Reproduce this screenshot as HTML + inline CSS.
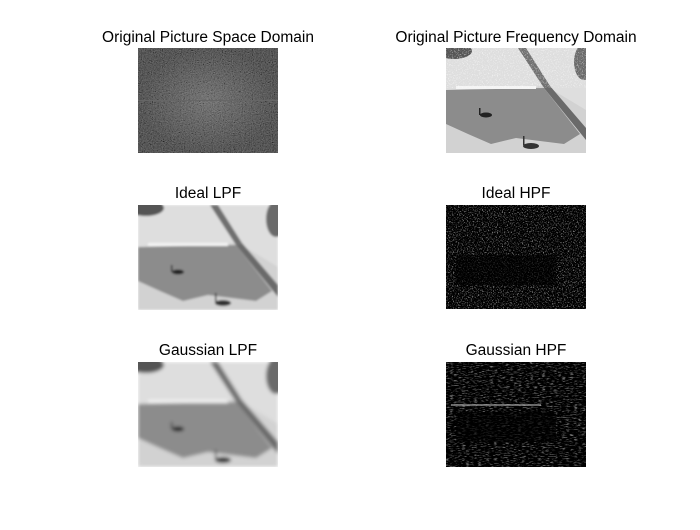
<!DOCTYPE html>
<html><head><meta charset="utf-8"><style>
body{margin:0;background:#fff;width:700px;height:525px;overflow:hidden;font-family:"Liberation Sans",Arial,sans-serif}
</style></head><body>
<svg width="700" height="525" viewBox="0 0 700 525" xmlns="http://www.w3.org/2000/svg">
<defs>
<clipPath id="clip"><rect width="140" height="105"/></clipPath>
<filter id="noiseGray" x="0" y="0" width="100%" height="100%">
 <feTurbulence type="fractalNoise" baseFrequency="0.9" numOctaves="2" seed="3" result="t"/>
 <feColorMatrix in="t" type="matrix" values="0.33 0.33 0.33 0 0  0.33 0.33 0.33 0 0  0.33 0.33 0.33 0 0  0 0 0 0 1" result="g"/>
 <feComponentTransfer in="g"><feFuncR type="linear" slope="1.0" intercept="-0.3"/><feFuncG type="linear" slope="1.0" intercept="-0.3"/><feFuncB type="linear" slope="1.0" intercept="-0.3"/></feComponentTransfer>
</filter>
<filter id="sparse" x="0" y="0" width="100%" height="100%">
 <feTurbulence type="fractalNoise" baseFrequency="0.8" numOctaves="2" seed="7" result="t"/>
 <feColorMatrix in="t" type="matrix" values="0 0 0 0 1  0 0 0 0 1  0 0 0 0 1  1 0 0 0 0" result="w"/>
 <feComponentTransfer in="w"><feFuncA type="linear" slope="4" intercept="-2.1"/></feComponentTransfer>
</filter>
<filter id="sparseH" x="0" y="0" width="100%" height="100%">
 <feTurbulence type="fractalNoise" baseFrequency="0.25 0.9" numOctaves="2" seed="11" result="t"/>
 <feColorMatrix in="t" type="matrix" values="0 0 0 0 1  0 0 0 0 1  0 0 0 0 1  1 0 0 0 0" result="w"/>
 <feComponentTransfer in="w"><feFuncA type="linear" slope="4" intercept="-2.1"/></feComponentTransfer>
</filter>
<filter id="blur1"><feGaussianBlur stdDeviation="1"/></filter>
<filter id="blur2"><feGaussianBlur stdDeviation="1.8"/></filter>
<radialGradient id="center" cx="50%" cy="50%" r="50%"><stop offset="0" stop-color="#fff" stop-opacity="0.18"/><stop offset="1" stop-color="#fff" stop-opacity="0"/></radialGradient>
<g id="scene">
 <rect width="140" height="105" fill="#d2d2d2"/>
 <polygon points="0,0 140,0 140,62 100,38 0,42" fill="#dedede"/>
 <ellipse cx="8" cy="3" rx="18" ry="8" fill="#555"/>
 <ellipse cx="138" cy="14" rx="10" ry="18" fill="#6a6a6a"/>
 <polygon points="72,0 80,0 104,38 98,40" fill="#707070"/>
 <polygon points="98,40 104,38 140,80 140,92" fill="#6a6a6a"/>
 <polygon points="0,42 98,40 134,86 118,96 70,90 45,96 22,86 0,76" fill="#8c8c8c"/>
 <rect x="10" y="38" width="80" height="3" fill="#f4f4f4"/>
 <ellipse cx="40" cy="67" rx="6" ry="2.5" fill="#222"/>
 <rect x="33" y="60" width="1.5" height="7" fill="#222"/>
 <ellipse cx="85" cy="98" rx="8" ry="3" fill="#333"/>
 <rect x="77" y="88" width="1.5" height="9" fill="#333"/>
</g>
</defs>
<g font-size="15.5" fill="#000" text-anchor="middle">
<text x="208" y="42">Original Picture Space Domain</text>
<text x="516" y="42">Original Picture Frequency Domain</text>
<text x="208" y="198">Ideal LPF</text>
<text x="516" y="198">Ideal HPF</text>
<text x="208" y="355">Gaussian LPF</text>
<text x="516" y="355">Gaussian HPF</text>
</g>
<g transform="translate(138,48)" clip-path="url(#clip)">
 <rect width="140" height="105" fill="#2e2e2e"/>
 <rect width="140" height="105" filter="url(#noiseGray)" opacity="0.55"/>
 <rect width="140" height="105" fill="url(#center)"/>
 <rect y="52" width="140" height="1" fill="#666"/>
</g>
<g transform="translate(446,48)" clip-path="url(#clip)">
 <use href="#scene"/>
 <rect width="140" height="40" filter="url(#sparse)" opacity="0.6" fill="#000"/>
</g>
<g transform="translate(138,205)" clip-path="url(#clip)">
 <g filter="url(#blur1)"><use href="#scene"/></g>
</g>
<g transform="translate(446,205)" clip-path="url(#clip)">
 <rect width="140" height="104" fill="#000"/>
 <rect width="140" height="104" filter="url(#sparse)" opacity="0.55"/>
 <rect x="10" y="50" width="100" height="30" fill="#000" opacity="0.6"/>
</g>
<g transform="translate(138,362)" clip-path="url(#clip)">
 <g filter="url(#blur2)"><use href="#scene"/></g>
</g>
<g transform="translate(446,362)" clip-path="url(#clip)">
 <rect width="140" height="105" fill="#000"/>
 <rect width="140" height="105" filter="url(#sparseH)" opacity="0.45"/>
 <rect x="5" y="42" width="90" height="2" fill="#ccc" opacity="0.5"/>
 <rect x="10" y="50" width="100" height="30" fill="#000" opacity="0.6"/>
</g>
</svg>
</body></html>
